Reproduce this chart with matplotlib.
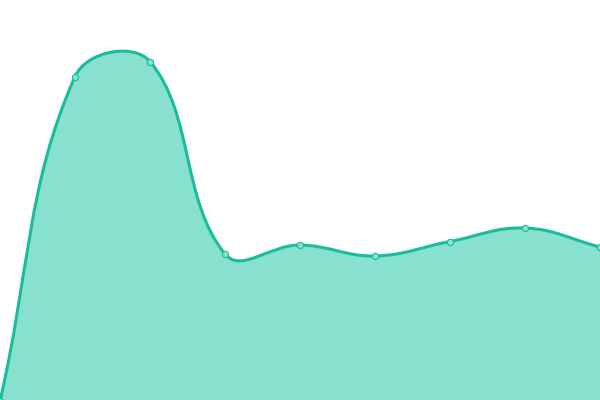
import numpy as np
import matplotlib
matplotlib.use("Agg")
import matplotlib.pyplot as plt
from matplotlib.path import Path
from matplotlib.patches import PathPatch

# data
x_values = [0, 75, 150, 225, 300, 375, 450, 525, 600]
y_values = [-1, 323.5, 338.5, 146, 155, 144, 158.5, 172, 153]

LINE = "#1abc9c"
FILL = "#88e0cf"

fig = plt.figure(figsize=(6, 4), dpi=100)
ax = fig.add_axes([0, 0, 1, 1])
ax.set_xlim(0, 600)
ax.set_ylim(0, 400)
ax.axis("off")

# Chart.js style spline (tension 0.4) computed in display space
pts = ax.transData.transform(np.column_stack([x_values, y_values]))
t = 0.4
n = len(pts)
ctrl_prev = np.zeros_like(pts)
ctrl_next = np.zeros_like(pts)
for i in range(n):
    p0 = pts[i - 1] if i > 0 else pts[i]
    p1 = pts[i]
    p2 = pts[i + 1] if i < n - 1 else pts[i]
    d01 = np.hypot(*(p1 - p0))
    d12 = np.hypot(*(p2 - p1))
    s01 = d01 / (d01 + d12) if (d01 + d12) else 0
    s12 = d12 / (d01 + d12) if (d01 + d12) else 0
    fa = t * s01
    fb = t * s12
    ctrl_prev[i] = p1 - fa * (p2 - p0)
    ctrl_next[i] = p1 + fb * (p2 - p0)

inv = ax.transData.inverted()
pts_d = inv.transform(pts)
cp_d = inv.transform(ctrl_prev)
cn_d = inv.transform(ctrl_next)

verts = [tuple(pts_d[0])]
codes = [Path.MOVETO]
for i in range(n - 1):
    verts += [tuple(cn_d[i]), tuple(cp_d[i + 1]), tuple(pts_d[i + 1])]
    codes += [Path.CURVE4] * 3

fill_verts = verts + [(x_values[-1], -5), (x_values[0], -5), verts[0]]
fill_codes = codes + [Path.LINETO, Path.LINETO, Path.CLOSEPOLY]
ax.add_patch(PathPatch(Path(fill_verts, fill_codes), facecolor=FILL,
                       edgecolor="none", zorder=1))
ax.add_patch(PathPatch(Path(verts, codes), facecolor="none",
                       edgecolor=LINE, linewidth=2.2, zorder=2,
                       capstyle="round", joinstyle="round"))
ax.plot(x_values, y_values, linestyle="none", marker="o", markersize=4.5,
        markerfacecolor=FILL, markeredgecolor=LINE, markeredgewidth=0.8,
        zorder=3)

fig.savefig("out.png", dpi=100)
